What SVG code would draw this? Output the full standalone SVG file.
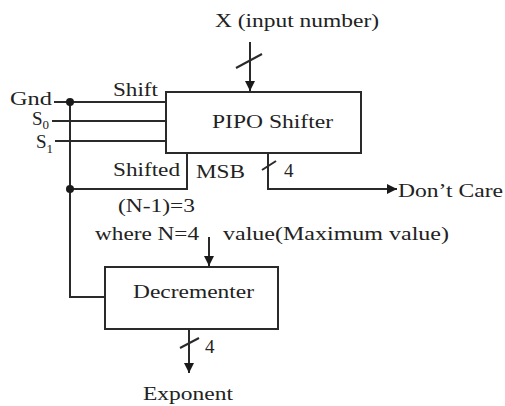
<svg xmlns="http://www.w3.org/2000/svg" width="505" height="406" viewBox="0 0 505 406">
<defs>
<style>
text{font-family:"Liberation Serif","Times New Roman",serif;font-size:19px;fill:#222}
.w{stroke:#2a2a2a;stroke-width:2;fill:none}
.box{stroke:#2a2a2a;stroke-width:2;fill:#fff}
</style>
<marker id="ah" viewBox="0 0 10 10" refX="10" refY="5" markerWidth="12" markerHeight="10" markerUnits="userSpaceOnUse" orient="auto">
<path d="M0,0 L10,5 L0,10 Z" fill="#1a1a1a"/>
</marker>
</defs>
<rect width="505" height="406" fill="#fff"/>
<g id="connectors">
<line class="w" x1="250" y1="42" x2="250" y2="91" marker-end="url(#ah)"/>
<line class="w" x1="236" y1="68" x2="262" y2="54"/>
<line class="w" x1="54" y1="102" x2="166" y2="102"/>
<line class="w" x1="52" y1="121" x2="166" y2="121"/>
<line class="w" x1="55" y1="141" x2="166" y2="141"/>
<polyline class="w" points="187,153 187,189 70,189"/>
<polyline class="w" points="70,102 70,297 105,297"/>
<circle cx="70" cy="102" r="4" fill="#1a1a1a"/>
<circle cx="70" cy="189" r="4" fill="#1a1a1a"/>
<polyline class="w" points="268,153 268,189 397,189" marker-end="url(#ah)"/>
<line class="w" x1="262" y1="170" x2="276" y2="161"/>
<line class="w" x1="209" y1="237" x2="209" y2="266" marker-end="url(#ah)"/>
<line class="w" x1="189" y1="329" x2="189" y2="373" marker-end="url(#ah)"/>
<line class="w" x1="180" y1="348" x2="199" y2="338"/>
</g>
<g id="pipo">
<rect class="box" x="166" y="92" width="195" height="61"/>
<text x="212" y="128" textLength="121" lengthAdjust="spacingAndGlyphs">PIPO Shifter</text>
</g>
<g id="decrementer">
<rect class="box" x="105" y="267" width="173" height="62"/>
<text x="133" y="298" textLength="121" lengthAdjust="spacingAndGlyphs">Decrementer</text>
</g>
<g id="labels">
<text x="215" y="27" textLength="164" lengthAdjust="spacingAndGlyphs">X (input number)</text>
<text x="10" y="105" textLength="42" lengthAdjust="spacingAndGlyphs">Gnd</text>
<text x="32" y="125" font-size="18">S<tspan font-size="13" dy="4">0</tspan></text>
<text x="36" y="148" font-size="18">S<tspan font-size="13" dy="5">1</tspan></text>
<text x="113" y="96" textLength="45" lengthAdjust="spacingAndGlyphs">Shift</text>
<text x="113" y="176" textLength="67" lengthAdjust="spacingAndGlyphs">Shifted</text>
<text x="196" y="178" textLength="49" lengthAdjust="spacingAndGlyphs">MSB</text>
<text x="284" y="177">4</text>
<text x="398" y="197" textLength="105" lengthAdjust="spacingAndGlyphs">Don’t Care</text>
<text x="118" y="212" textLength="77" lengthAdjust="spacingAndGlyphs">(N-1)=3</text>
<text x="95" y="240" textLength="104" lengthAdjust="spacingAndGlyphs">where N=4</text>
<text x="223" y="240" textLength="226" lengthAdjust="spacingAndGlyphs">value(Maximum value)</text>
<text x="205" y="353">4</text>
<text x="143" y="400" textLength="90" lengthAdjust="spacingAndGlyphs">Exponent</text>
</g>
</svg>
